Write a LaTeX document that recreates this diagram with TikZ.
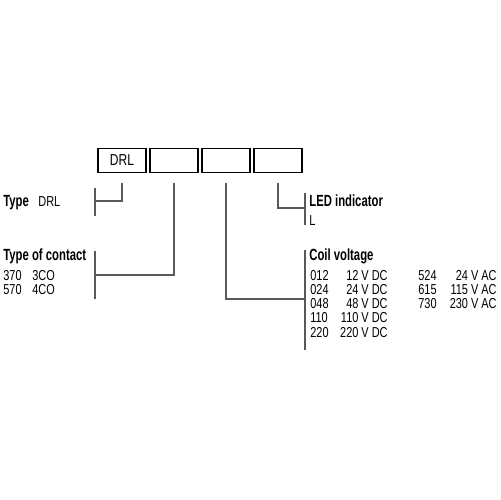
\documentclass[tikz,border=0pt]{standalone}
\usepackage{fontspec}
\setmainfont{Liberation Sans}[FakeStretch=0.76,BoldFeatures={FakeStretch=0.7}]
\begin{document}
\begin{tikzpicture}
[x=0.02cm,y=-0.02cm,
 boxdecorate/.style={shape=rectangle,draw,line width=0.85pt,minimum width=0.96cm,
   minimum height=0.48cm,inner sep=0pt,font=\fontsize{9}{10}\selectfont},%
 linedecorate/.style={-,draw=black!65,line width=0.7pt},%
 headdecorate/.style={anchor=base west,inner sep=0pt,font=\fontsize{9.2}{10}\selectfont\bfseries},%
 textdecorate/.style={anchor=base west,inner sep=0pt,font=\fontsize{8.2}{9}\selectfont},%
 valuedecorate/.style={anchor=base east,inner sep=0pt,font=\fontsize{8.2}{9}\selectfont}]
\useasboundingbox (0,0) rectangle (500,500);
%% code boxes
\foreach \nodename/\x/\txt in {DRLbox/122/DRL, Contactbox/174/, Coilbox/226/, LEDbox/278/}
{
  \node (\nodename) at (\x,160.5) [boxdecorate] {\txt};
}
%% labels
\node (Type) at (3,206) [headdecorate] {Type};
\node (TypeDRL) at (38,206) [textdecorate] {DRL};
\node (Contact) at (3,260.5) [headdecorate] {Type of contact};
\node (c370) at (3,280.3) [textdecorate] {370};
\node (c3CO) at (32,280.3) [textdecorate] {3CO};
\node (c570) at (3,294.5) [textdecorate] {570};
\node (c4CO) at (32,294.5) [textdecorate] {4CO};
\node (LED) at (309,206) [headdecorate] {LED indicator};
\node (LEDL) at (309,225) [textdecorate] {L};
\node (Coil) at (309,260) [headdecorate] {Coil voltage};
\foreach \code/\volt/\y in {012/12/280.3, 024/24/294.5, 048/48/308.7,
  110/110/322.9, 220/220/337.1}
{
  \node (coil\code) at (310,\y) [textdecorate] {\code};
  \node (volt\code) at (388,\y) [valuedecorate] {\volt{} V DC};
}
\foreach \code/\volt/\y in {524/24/280.3, 615/115/294.5, 730/230/308.7}
{
  \node (coil\code) at (418,\y) [textdecorate] {\code};
  \node (volt\code) at (497,\y) [valuedecorate] {\volt{} V AC};
}
%% bars and joints
\coordinate (typejoin) at (95,201);
\coordinate (contactjoin) at (95,275);
\coordinate (coiljoin) at (305,299);
\coordinate (ledjoin) at (305,208);
\draw[linedecorate] (95,188) -- (95,216);
\draw[linedecorate] (95,251) -- (95,299);
\draw[linedecorate] (305,193) -- (305,225);
\draw[linedecorate] (305,250) -- (305,350);
%% connectors
\foreach \startnode/\endnode in {DRLbox/typejoin, Contactbox/contactjoin,
  Coilbox/coiljoin, LEDbox/ledjoin}
{
  \draw[linedecorate,shorten <=0.2cm] (\startnode.south) |- (\endnode);
}
\end{tikzpicture}
\end{document}
